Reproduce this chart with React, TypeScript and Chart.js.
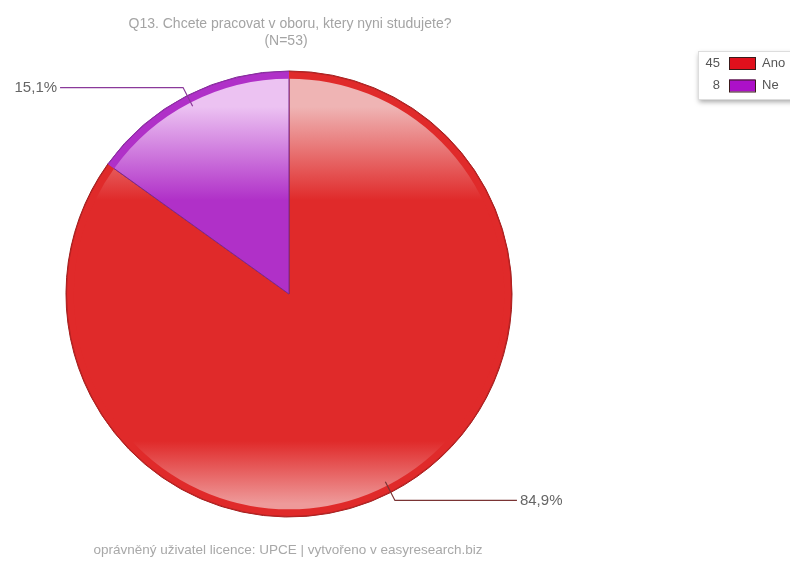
import React, { useEffect, useRef } from "react";
import { Chart, registerables } from "chart.js";

Chart.register(...registerables);

const titleLines = ["Q13. Chcete pracovat v oboru, ktery nyni studujete?", "(N=53)"];
const footerText = "oprávněný uživatel licence: UPCE | vytvořeno v easyresearch.biz";
const categories = ["Ano", "Ne"];
const counts = [45, 8];
const solidColors = ["#e02a2a", "#b030c8"];
const legendColors = ["#e0101c", "#ac10c8"];
const lightTopColors = ["#efb4b4", "#ecc2f2"];
const lightBottomColors = ["#ee9a9a", "#d9a0e4"];
const edgeColors = ["#9a1c1c", "#7a2890"];
const leaderColors = ["#7a3434", "#8a3a9a"];

const FONT = "'Liberation Sans', Arial, sans-serif";

function fmtPct(v: number, total: number) {
  return ((v / total) * 100).toFixed(1).replace(".", ",") + "%";
}

const decorPlugin = {
  id: "decor",
  afterDatasetsDraw(chart: any) {
    const ctx = chart.ctx as CanvasRenderingContext2D;
    const meta = chart.getDatasetMeta(0);
    const total = counts.reduce((a, b) => a + b, 0);
    meta.data.forEach((arc: any, i: number) => {
      const { x, y, startAngle, endAngle, outerRadius } = arc.getProps(
        ["x", "y", "startAngle", "endAngle", "outerRadius"],
        true
      );
      // rim band
      ctx.save();
      ctx.beginPath();
      ctx.arc(x, y, outerRadius - 4, startAngle, endAngle);
      ctx.lineWidth = 7.5;
      ctx.strokeStyle = solidColors[i];
      ctx.stroke();
      ctx.beginPath();
      ctx.arc(x, y, outerRadius - 0.5, startAngle, endAngle);
      ctx.lineWidth = 1;
      ctx.strokeStyle = edgeColors[i];
      ctx.globalAlpha = 0.6;
      ctx.stroke();
      ctx.restore();

      // leader line + label
      const mid = (startAngle + endAngle) / 2;
      const cos = Math.cos(mid);
      const sin = Math.sin(mid);
      const p1x = x + cos * (outerRadius - 12);
      const p1y = y + sin * (outerRadius - 12);
      const p2x = x + cos * (outerRadius + 9);
      const p2y = y + sin * (outerRadius + 9);
      const right = cos >= 0;
      const p3x = right ? p2x + 122 : p2x - 123;
      ctx.save();
      ctx.beginPath();
      ctx.moveTo(p1x, p1y);
      ctx.lineTo(p2x, p2y);
      ctx.lineTo(p3x, p2y);
      ctx.lineWidth = 1.2;
      ctx.strokeStyle = leaderColors[i];
      ctx.stroke();
      ctx.font = `15px ${FONT}`;
      ctx.fillStyle = "#666666";
      ctx.textBaseline = "middle";
      ctx.textAlign = right ? "left" : "right";
      ctx.fillText(fmtPct(counts[i], total), right ? p3x + 3 : p3x - 3, p2y);
      ctx.restore();
    });

    // title
    const cx = meta.data[0].x;
    ctx.save();
    ctx.fillStyle = "#a4a4a4";
    ctx.font = `14px ${FONT}`;
    ctx.textAlign = "center";
    ctx.textBaseline = "middle";
    ctx.fillText(titleLines[0], cx + 1, 24);
    ctx.fillText(titleLines[1], cx - 3, 41);
    // footer
    ctx.font = `13.5px ${FONT}`;
    ctx.fillStyle = "#a8a8a8";
    ctx.fillText(footerText, cx - 1, 550);
    ctx.restore();

    // legend box
    ctx.save();
    ctx.shadowColor = "rgba(0,0,0,0.35)";
    ctx.shadowBlur = 5;
    ctx.shadowOffsetX = 1;
    ctx.shadowOffsetY = 3;
    ctx.fillStyle = "#ffffff";
    ctx.fillRect(698, 51, 98, 48);
    ctx.restore();
    ctx.save();
    ctx.strokeStyle = "#dddddd";
    ctx.lineWidth = 1;
    ctx.strokeRect(698.5, 51.5, 98, 48);
    ctx.font = `13px ${FONT}`;
    ctx.textBaseline = "middle";
    categories.forEach((c, i) => {
      const ry = 63 + i * 22.5;
      ctx.fillStyle = "#555555";
      ctx.textAlign = "right";
      ctx.fillText(String(counts[i]), 720, ry);
      ctx.fillStyle = legendColors[i];
      ctx.fillRect(729, ry - 6, 26, 12);
      ctx.strokeStyle = "#3a1a1a";
      ctx.strokeRect(729.5, ry - 5.5, 26, 12);
      ctx.fillStyle = "#555555";
      ctx.textAlign = "left";
      ctx.fillText(c, 762, ry);
    });
    ctx.restore();
  },
};

export default function App() {
  const ref = useRef<HTMLCanvasElement | null>(null);
  useEffect(() => {
    if (!ref.current) return;
    const chart = new Chart(ref.current, {
      type: "pie",
      data: {
        labels: categories,
        datasets: [
          {
            data: counts,
            radius: 223,
            backgroundColor: (c: any) => {
              const chartObj = c.chart;
              const area = chartObj.chartArea;
              const i = c.dataIndex;
              if (!area) return solidColors[i];
              const g = chartObj.ctx.createLinearGradient(0, area.top, 0, area.bottom);
              g.addColorStop(0, lightTopColors[i]);
              g.addColorStop(0.08, lightTopColors[i]);
              g.addColorStop(0.29, solidColors[i]);
              g.addColorStop(0.83, solidColors[i]);
              g.addColorStop(0.97, lightBottomColors[i]);
              g.addColorStop(1, lightBottomColors[i]);
              return g;
            },
            borderColor: edgeColors,
            borderWidth: 1,
          } as any,
        ],
      },
      options: {
        responsive: false,
        animation: false,
        events: [],
        layout: { padding: { left: 66, right: 278, top: 71, bottom: 44 } },
        plugins: {
          legend: { display: false },
          title: { display: false },
          tooltip: { enabled: false },
        },
      },
      plugins: [decorPlugin],
    });
    return () => chart.destroy();
  }, []);
  return (
    <div style={{ position: "absolute", left: 0, top: 0, width: 790, height: 561, background: "#fff" }}>
      <canvas ref={ref} width={790} height={561} />
    </div>
  );
}
